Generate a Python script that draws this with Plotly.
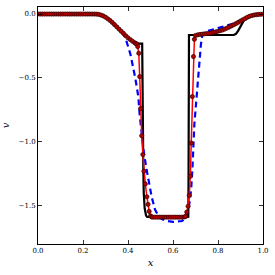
import plotly.graph_objects as go

# Reference (black) solution
black_x = [0.0, 0.25, 0.26, 0.27, 0.28, 0.29, 0.30, 0.31, 0.32, 0.33, 0.34, 0.35, 0.36, 0.37, 0.38, 0.39,
           0.40, 0.41, 0.42, 0.43, 0.44, 0.463, 0.464, 0.466, 0.468, 0.470, 0.474, 0.480, 0.485,
           0.660, 0.668, 0.669, 0.670, 0.671, 0.870, 0.880, 0.890, 0.900, 0.910, 0.920, 0.930,
           0.940, 0.950, 0.970, 1.0]
black_v = [0.0, 0.0, -0.001, -0.003, -0.008, -0.015, -0.025, -0.037, -0.050, -0.066, -0.083, -0.100,
           -0.118, -0.135, -0.152, -0.170, -0.186, -0.200, -0.213, -0.225, -0.232, -0.232, -0.60,
           -1.00, -1.20, -1.40, -1.52, -1.575, -1.588, -1.590, -1.588, -1.30, -0.60, -0.164, -0.164,
           -0.155, -0.130, -0.095, -0.060, -0.034, -0.022, -0.015, -0.011, -0.005, -0.003]

# Numerical solution (red, with markers)
red_x = [0.00, 0.01, 0.02, 0.03, 0.04, 0.05, 0.06, 0.07, 0.08, 0.09, 0.10, 0.11, 0.12, 0.13, 0.14,
         0.15, 0.16, 0.17, 0.18, 0.19, 0.20, 0.21, 0.22, 0.23, 0.24, 0.25, 0.26, 0.27, 0.28, 0.29,
         0.30, 0.31, 0.32, 0.33, 0.34, 0.35, 0.36, 0.37, 0.38, 0.39, 0.40, 0.41, 0.42, 0.43, 0.435,
         0.44, 0.443, 0.448, 0.452, 0.456, 0.461, 0.466, 0.471, 0.477, 0.484, 0.489, 0.494, 0.500,
         0.505, 0.51, 0.52, 0.53, 0.54, 0.55, 0.56, 0.57, 0.58, 0.59, 0.60, 0.61, 0.62, 0.63, 0.64,
         0.65, 0.655, 0.661, 0.667, 0.672, 0.677, 0.681, 0.686, 0.691, 0.695, 0.70, 0.71, 0.72,
         0.73, 0.74, 0.75, 0.76, 0.77, 0.78, 0.79, 0.80, 0.81, 0.82, 0.83, 0.84, 0.85, 0.86, 0.87,
         0.88, 0.89, 0.90, 0.91, 0.92, 0.93, 0.94, 0.95, 0.96, 0.97, 0.98, 0.99, 1.00]
red_v = [0.0, 0.0, 0.0, 0.0, 0.0, 0.0, 0.0, 0.0, 0.0, 0.0, 0.0, 0.0, 0.0, 0.0, 0.0,
         0.0, 0.0, 0.0, 0.0, 0.0, 0.0, 0.0, 0.0, 0.0, 0.0, 0.0, -0.001, -0.003, -0.008, -0.015,
         -0.025, -0.037, -0.050, -0.066, -0.083, -0.100, -0.118, -0.135, -0.152, -0.170, -0.186,
         -0.200, -0.213, -0.225, -0.231, -0.236, -0.255, -0.307, -0.49, -0.74, -0.953, -1.10,
         -1.23, -1.33, -1.43, -1.49, -1.545, -1.58,
         -1.588, -1.590, -1.590, -1.590, -1.590, -1.590, -1.590, -1.590, -1.590, -1.590, -1.590,
         -1.590, -1.590, -1.590, -1.590,
         -1.588, -1.585, -1.55, -1.505, -1.42, -1.27, -1.01, -0.646, -0.333, -0.198, -0.168,
         -0.163, -0.160, -0.158, -0.155, -0.153, -0.151, -0.148, -0.144, -0.140, -0.135, -0.130,
         -0.125, -0.118, -0.110, -0.102, -0.093, -0.084, -0.075, -0.065, -0.055, -0.045, -0.036,
         -0.026, -0.018, -0.012, -0.008, -0.005, -0.003, -0.002, -0.001]

# Alternative solution (blue dashed)
blue_x = [0.0, 0.25, 0.27, 0.30, 0.32, 0.34, 0.36, 0.38, 0.39, 0.40, 0.41, 0.416, 0.424, 0.431,
          0.438, 0.446, 0.452, 0.460, 0.470, 0.483, 0.495, 0.505, 0.520, 0.535, 0.550, 0.572,
          0.600, 0.620, 0.640, 0.652, 0.661, 0.668, 0.676, 0.681, 0.686, 0.695, 0.705, 0.717,
          0.724, 0.730, 0.740, 0.750, 0.794, 0.853, 0.880, 0.912, 0.942, 0.960, 0.980, 1.0]
blue_v = [0.0, 0.0, -0.003, -0.025, -0.050, -0.083, -0.118, -0.160, -0.195, -0.245, -0.310, -0.360,
          -0.420, -0.490, -0.560, -0.650, -0.790, -0.940, -1.080, -1.220, -1.340, -1.430, -1.530,
          -1.580, -1.605, -1.620, -1.627, -1.625, -1.620, -1.605, -1.575, -1.530, -1.450, -1.360,
          -1.220, -0.860, -0.620, -0.360, -0.240, -0.170, -0.145, -0.135, -0.112, -0.086, -0.070,
          -0.047, -0.021, -0.012, -0.006, -0.003]

x_ticks = [0.0, 0.2, 0.4, 0.6, 0.8, 1.0]
x_tick_labels = ["0.0", "0.2", "0.4", "0.6", "0.8", "1.0"]
y_ticks = [0.0, -0.5, -1.0, -1.5]
y_tick_labels = ["0.0", "\u22120.5", "\u22121.0", "\u22121.5"]

FONT = "DejaVu Serif"

fig = go.Figure()
fig.add_trace(go.Scatter(x=black_x, y=black_v, mode="lines",
                         line=dict(color="black", width=2.2), showlegend=False))
fig.add_trace(go.Scatter(x=blue_x, y=blue_v, mode="lines",
                         line=dict(color="#0000ff", width=2.2, dash="6px,4px"),
                         showlegend=False))
fig.add_trace(go.Scatter(x=red_x, y=red_v, mode="lines+markers",
                         line=dict(color="#ff0000", width=1.5),
                         marker=dict(size=4.2, color="#b80000", line=dict(color="#300000", width=0.7)),
                         showlegend=False))

axis_common = dict(showgrid=False, zeroline=False, showline=True, linecolor="black", linewidth=1,
                   mirror="ticks", ticks="inside", ticklen=4, tickwidth=0.8, tickcolor="black",
                   automargin=False,
                   tickfont=dict(family=FONT, size=7, color="black"))

fig.update_layout(
    width=275, height=275,
    margin=dict(l=38, r=12, t=7, b=31),
    paper_bgcolor="white", plot_bgcolor="white",
    hovermode=False,
    xaxis=dict(range=[0, 1], tickvals=x_ticks, ticktext=x_tick_labels,
               title=dict(text="<i>x</i>", font=dict(family=FONT, size=10, color="black"), standoff=4),
               **axis_common),
    yaxis=dict(range=[-1.8, 0.055], tickvals=y_ticks, ticktext=y_tick_labels,
               title=dict(text="<i>v</i>", font=dict(family=FONT, size=10, color="black"), standoff=10),
               **axis_common),
)

fig.write_html("out.html", config={"displayModeBar": False, "staticPlot": True},
               post_script="document.body.style.margin='0';")
